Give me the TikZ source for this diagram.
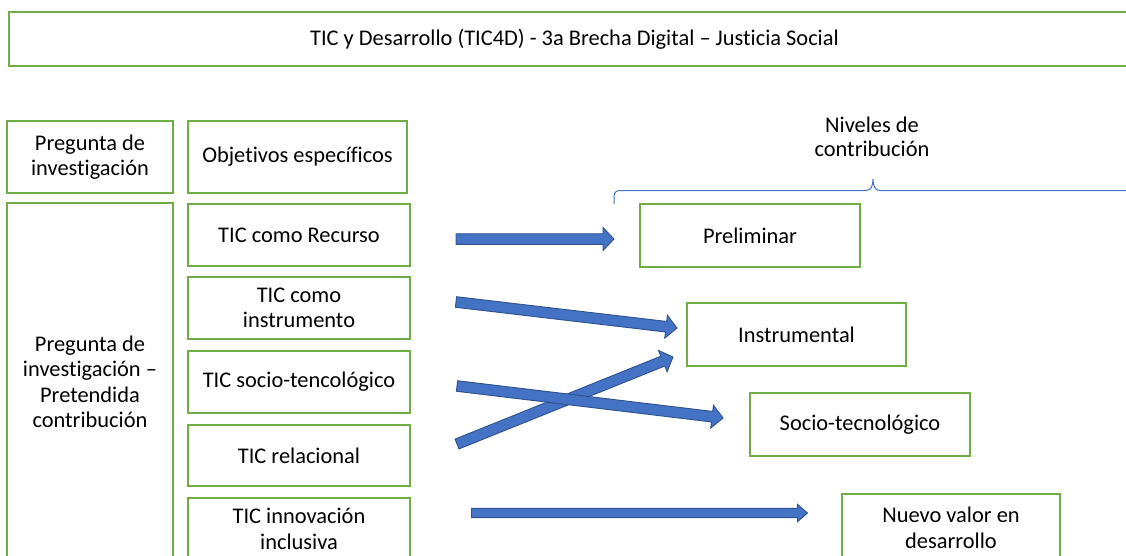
\documentclass[tikz,border=0pt]{standalone}
\usepackage{fontspec}
\setmainfont[Ligatures={NoCommon,TeX}]{Carlito}
\usetikzlibrary{calc}
\definecolor{boxgreen}{HTML}{70AD47}
\definecolor{arrblue}{HTML}{4472C4}
\definecolor{arredge}{HTML}{2F528F}
\tikzset{
  box/.style={draw=boxgreen, line width=1.3pt, inner sep=0pt, align=center,
    font=\fontsize{22.4}{25.5}\selectfont},
  blockarr/.style={fill=arrblue, draw=arredge, line width=0.9pt, line join=miter},
  bracestyle/.style={draw=arrblue, line width=1pt}
}
\newcommand\blockarrow[5]{%
  \coordinate (ah) at ($(#2)!#5!(#1)$);
  \filldraw[blockarr] ($(#1)!#3!90:(#2)$) -- ($(ah)!#3!90:(#2)$) -- ($(ah)!#4!90:(#2)$)
    -- (#2) -- ($(ah)!#4!-90:(#2)$) -- ($(ah)!#3!-90:(#2)$) -- ($(#1)!#3!-90:(#2)$) -- cycle;}
\begin{document}
\begin{tikzpicture}[x=1pt,y=-1pt]
\useasboundingbox (0,0) rectangle (1126,555);
\clip (0,0) rectangle (1126,555);
% title
\node[box, minimum width=1131pt, minimum height=54pt, font=\fontsize{22.4}{25}\selectfont] (title) at (574.5,39) {TIC y Desarrollo (TIC4D) - 3a Brecha Digital – Justicia Social};
% left column
\node[box, minimum width=166pt, minimum height=72pt] (preg) at (90,157) {Pregunta de\\investigación};
\node[box, minimum width=219pt, minimum height=72pt] (obj) at (297.5,157) {Objetivos específicos};
\node[box, minimum width=166pt, minimum height=358pt] (pregc) at (90,382) {Pregunta de\\investigación –\\Pretendida\\contribución};
\node[box, minimum width=222pt, minimum height=62pt] (rec) at (299,235) {TIC como Recurso};
\node[box, minimum width=222pt, minimum height=62pt] (ins) at (299,308) {TIC como\\instrumento};
\node[box, minimum width=222pt, minimum height=62pt] (soc) at (299,382) {TIC socio-tencológico};
\node[box, minimum width=222pt, minimum height=61pt] (rel) at (299,455.5) {TIC relacional};
\node[box, minimum width=222pt, minimum height=62pt] (inn) at (299,529) {TIC innovación\\inclusiva};
% right column
\node[font=\fontsize{22.4}{23.5}\selectfont, align=center, inner sep=0pt] (niv) at (872,137) {Niveles de\\contribución};
\node[box, minimum width=220pt, minimum height=63pt] (pre) at (750,235.5) {Preliminar};
\node[box, minimum width=219pt, minimum height=63pt] (inst) at (796.5,334.5) {Instrumental};
\node[box, minimum width=220pt, minimum height=63pt] (stec) at (860,424.5) {Socio-tecnológico};
\node[box, minimum width=218pt, minimum height=68pt] (nuevo) at (951,528) {Nuevo valor en\\desarrollo};
% brace
\draw[bracestyle] (614,204) .. controls (614,192) .. (619,190.5) -- (866,190.5)
  .. controls (871,190.5) and (873,186) .. (873,179)
  .. controls (873,186) and (875,190.5) .. (880,190.5) -- (1130,190.5);
% arrows
\coordinate (a1s) at (456,239); \coordinate (a1e) at (614,239);
\coordinate (a2s) at (456,302); \coordinate (a2e) at (677,328);
\coordinate (a3s) at (457,444); \coordinate (a3e) at (673,357);
\coordinate (a4s) at (457,386); \coordinate (a4e) at (723,418);
\coordinate (a5s) at (471.5,513); \coordinate (a5e) at (807.5,513);
\blockarrow{a1s}{a1e}{5.3pt}{11.5pt}{11pt}
\blockarrow{a2s}{a2e}{5.3pt}{11.5pt}{11pt}
\blockarrow{a3s}{a3e}{5.3pt}{11.5pt}{11pt}
\blockarrow{a4s}{a4e}{5.3pt}{11.5pt}{11pt}
\blockarrow{a5s}{a5e}{4.6pt}{8.7pt}{10pt}
\end{tikzpicture}
\end{document}
